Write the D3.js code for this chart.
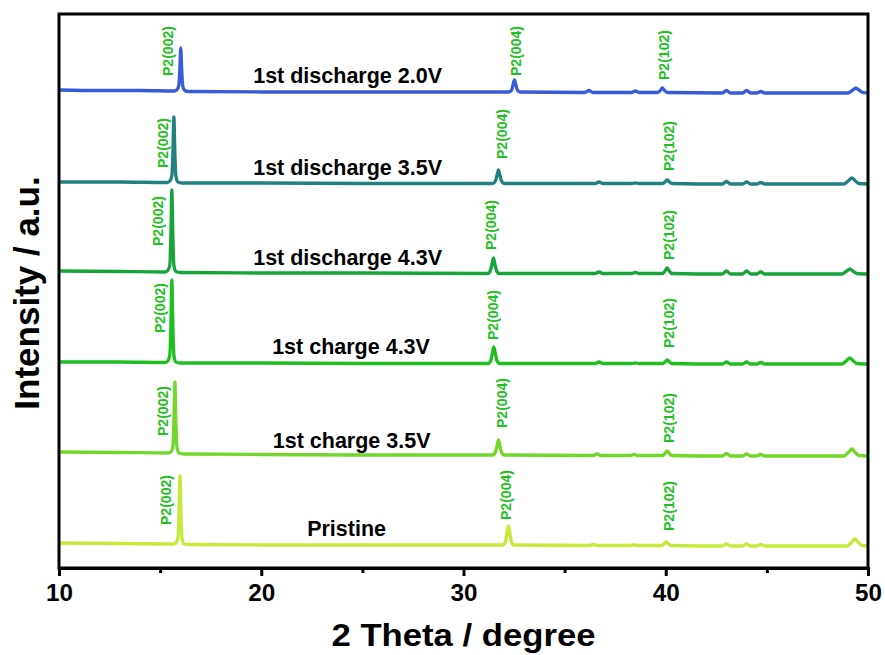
<!DOCTYPE html>
<html>
<head>
<meta charset="utf-8">
<script src="https://cdn.jsdelivr.net/npm/d3@7/dist/d3.min.js"></script>
<style>
  html, body { margin: 0; padding: 0; background: #fff; }
  svg { display: block; }
  text { font-family: "Liberation Sans", Arial, Helvetica, sans-serif; font-weight: bold; }
</style>
</head>
<body>
<svg id="chart" width="885" height="655"></svg>
<script>
// XRD patterns of the P2 cathode at different states of charge (2θ in degrees, intensity in a.u.)
const seriesNames = [
  "1st discharge 2.0V",
  "1st discharge 3.5V",
  "1st discharge 4.3V",
  "1st charge 4.3V",
  "1st charge 3.5V",
  "Pristine"
];

// vertical stacking offset of each pattern (a.u.)
const seriesOffsets = [475, 384, 294, 204, 112, 22];

const seriesColors = ["#3a5ad8", "#22807f", "#16a43b", "#20bf20", "#74d62b", "#c6ea3a"];

const discharge20 = [
  [10, 3], [12, 2.5], [14, 2.5], [15.7, 2], [15.82, 3], [15.92, 7], [15.97, 22], [16.02, 45],
  [16.07, 22], [16.12, 7], [16.22, 2.5], [16.4, 1.5], [20, 1], [25, 1], [30, 1],
  [32.25, 1], [32.38, 3], [32.46, 9], [32.52, 13], [32.58, 9], [32.66, 3], [32.8, 1],
  [36.0, 0.5], [36.2, 2.5], [36.4, 0.5], [38.3, 0.5], [38.5, 2], [38.7, 0.5],
  [39.6, 0.5], [39.75, 3], [39.83, 5], [39.92, 3], [40.08, 0.5],
  [42.8, 0], [43.0, 2.5], [43.2, 0], [43.8, 0], [44.0, 2.5], [44.2, 0], [44.5, 0], [44.7, 1.5], [44.9, 0],
  [49.0, 0], [49.25, 3], [49.4, 5], [49.55, 3], [49.75, 0.5], [50, 0]
];

const discharge35 = [
  [10, 2], [13, 2], [15.35, 1.5], [15.48, 3], [15.58, 8], [15.63, 30], [15.68, 67],
  [15.73, 30], [15.78, 8], [15.88, 2], [16.1, 1], [20, 1], [25, 0.5],
  [31.45, 0.5], [31.58, 3], [31.66, 9], [31.73, 14], [31.8, 9], [31.88, 3], [32.0, 0.5],
  [36.5, 0.5], [36.7, 2], [36.9, 0.5], [38.3, 0.5], [38.5, 1], [38.7, 0.5],
  [39.85, 0.5], [39.98, 2.5], [40.07, 4], [40.16, 2.5], [40.3, 0.5],
  [42.8, 0], [43.0, 2.5], [43.2, 0], [43.8, 0], [44.0, 2], [44.2, 0], [44.5, 0], [44.7, 1.5], [44.9, 0],
  [48.8, 0], [49.05, 3.5], [49.2, 6], [49.35, 3.5], [49.55, 0.5], [50, 0]
];

const discharge43 = [
  [10, 3], [13, 2.5], [15.25, 2], [15.38, 3.5], [15.48, 9], [15.53, 38], [15.58, 84],
  [15.63, 38], [15.68, 9], [15.78, 2.5], [16.0, 1.5], [20, 1], [25, 1],
  [31.2, 0.5], [31.33, 3.5], [31.41, 10], [31.48, 16], [31.55, 10], [31.63, 3.5], [31.76, 0.5],
  [36.5, 0.5], [36.7, 2], [36.9, 0.5], [38.3, 0.5], [38.5, 1.5], [38.7, 0.5],
  [39.85, 0.5], [39.98, 3.5], [40.07, 6], [40.16, 3.5], [40.3, 0.5],
  [42.8, 0], [43.0, 3], [43.2, 0], [43.8, 0], [44.0, 3], [44.2, 0], [44.5, 0], [44.7, 2], [44.9, 0],
  [48.7, 0], [48.95, 3], [49.1, 5], [49.25, 3], [49.45, 0.5], [50, 0]
];

const charge43 = [
  [10, 2], [13, 2], [15.25, 1.5], [15.38, 3], [15.48, 9], [15.53, 38], [15.58, 84],
  [15.63, 38], [15.68, 9], [15.78, 2], [16.0, 1], [20, 1], [25, 0.5],
  [31.22, 0.5], [31.35, 3.5], [31.43, 11], [31.5, 17], [31.57, 11], [31.65, 3.5], [31.78, 0.5],
  [36.5, 0.5], [36.7, 2], [36.9, 0.5], [38.3, 0.5], [38.5, 1], [38.7, 0.5],
  [39.85, 0.5], [39.98, 2.5], [40.07, 4], [40.16, 2.5], [40.3, 0.5],
  [42.8, 0], [43.0, 2], [43.2, 0], [43.8, 0], [44.0, 2], [44.2, 0], [44.5, 0], [44.7, 1.5], [44.9, 0],
  [48.7, 0], [48.95, 3.5], [49.1, 6], [49.25, 3.5], [49.45, 0.5], [50, 0]
];

const charge35 = [
  [10, 4], [13, 3.5], [15.4, 3], [15.53, 4], [15.63, 9], [15.68, 33], [15.73, 74],
  [15.78, 33], [15.83, 9], [15.93, 3], [16.2, 2], [20, 1.5], [25, 1],
  [31.45, 1], [31.58, 4], [31.66, 10], [31.73, 16], [31.8, 10], [31.88, 4], [32.0, 1],
  [36.4, 0.5], [36.6, 2], [36.8, 0.5], [38.25, 0.5], [38.44, 1.5], [38.6, 0.5],
  [39.85, 0.5], [39.98, 3], [40.07, 5], [40.16, 3], [40.3, 0.5],
  [42.8, 0], [43.0, 2.5], [43.2, 0], [43.8, 0], [44.0, 2], [44.2, 0], [44.5, 0], [44.7, 1.5], [44.9, 0],
  [48.8, 0], [49.05, 4], [49.2, 7], [49.35, 4], [49.55, 0.5], [50, 0]
];

const pristine = [
  [10, 3], [13, 2.5], [15.65, 2], [15.78, 3], [15.88, 8], [15.93, 31], [15.98, 70],
  [16.03, 31], [16.08, 8], [16.18, 2], [16.4, 1.5], [20, 1], [25, 1],
  [31.94, 1], [32.07, 4], [32.15, 13], [32.22, 20], [32.29, 13], [32.37, 4], [32.5, 1],
  [36.2, 0.5], [36.42, 1.5], [36.6, 0.5], [38.25, 0.5], [38.44, 1.2], [38.6, 0.5],
  [39.8, 0.5], [39.93, 2.5], [40.02, 4], [40.11, 2.5], [40.25, 0.5],
  [42.8, 0], [43.0, 2], [43.2, 0], [43.8, 0], [44.0, 2], [44.2, 0], [44.5, 0], [44.7, 1.5], [44.9, 0],
  [48.95, 0], [49.2, 4], [49.35, 7], [49.5, 4], [49.7, 0.5], [50, 0]
];

const seriesData = [discharge20, discharge35, discharge43, charge43, charge35, pristine];

// reflection labels: [text, 2θ, intensity above the pattern offset]
const peakLabels = [
  [["P2(002)", 15.38, 17], ["P2(004)", 32.57, 17], ["P2(102)", 39.93, 13]],
  [["P2(002)", 15.14, 16], ["P2(004)", 31.88, 25], ["P2(102)", 40.17, 13]],
  [["P2(002)", 14.89, 28], ["P2(004)", 31.38, 24], ["P2(102)", 40.17, 14]],
  [["P2(002)", 14.99, 31], ["P2(004)", 31.48, 24], ["P2(102)", 40.17, 16]],
  [["P2(002)", 15.14, 20], ["P2(004)", 31.88, 28], ["P2(102)", 40.17, 13]],
  [["P2(002)", 15.28, 21], ["P2(004)", 32.12, 26], ["P2(102)", 40.17, 15]]
];

// pattern name anchors: [2θ, intensity above the pattern offset]
const nameAnchors = [[24.27, 10.5], [24.27, 9], [24.27, 9], [24.44, 10], [24.47, 8], [24.22, 10]];

const xTicks = [10, 20, 30, 40, 50];
const xMinorTicks = [15, 25, 35, 45];
const xDomain = [10, 50];
const yDomain = [0, 554];

const svg = d3.select("#chart");
const plotLeft = 59, plotRight = 868, plotTop = 14, plotBottom = 568;

const x = d3.scaleLinear().domain(xDomain).range([plotLeft, plotRight]);
const y = d3.scaleLinear().domain(yDomain).range([plotBottom, plotTop]);

svg.append("defs").append("clipPath").attr("id", "plot-clip")
  .append("rect").attr("x", plotLeft).attr("y", plotTop)
  .attr("width", plotRight - plotLeft).attr("height", plotBottom - plotTop);

const plot = svg.append("g").attr("clip-path", "url(#plot-clip)");

seriesData.forEach((pts, i) => {
  const off = seriesOffsets[i];
  const line = d3.line()
    .x(d => x(d[0]))
    .y(d => y(d[1] + off))
    .curve(d3.curveMonotoneX);
  plot.append("path")
    .datum(pts)
    .attr("fill", "none")
    .attr("stroke", seriesColors[i])
    .attr("stroke-width", 3.3)
    .attr("stroke-linejoin", "round")
    .attr("stroke-linecap", "round")
    .attr("d", line);
});

// reflection labels, rotated
peakLabels.forEach((labels, i) => {
  const off = seriesOffsets[i];
  labels.forEach(([txt, t, v]) => {
    svg.append("text")
      .attr("transform", `translate(${x(t)},${y(v + off)}) rotate(-90)`)
      .attr("dy", "0.36em")
      .attr("text-anchor", "start")
      .attr("font-size", 14)
      .attr("textLength", 50)
      .attr("lengthAdjust", "spacingAndGlyphs")
      .attr("fill", "#1fc21f")
      .text(txt);
  });
});

// pattern names
seriesNames.forEach((name, i) => {
  const [t, v] = nameAnchors[i];
  svg.append("text")
    .attr("x", x(t))
    .attr("y", y(v + seriesOffsets[i]))
    .attr("text-anchor", "middle")
    .attr("font-size", 21.5)
    .attr("fill", "#000")
    .text(name);
});

// frame
svg.append("rect")
  .attr("x", plotLeft).attr("y", plotTop)
  .attr("width", plotRight - plotLeft).attr("height", plotBottom - plotTop)
  .attr("fill", "none").attr("stroke", "#000").attr("stroke-width", 3);

// bottom axis: major and minor ticks
const axisMajor = d3.axisBottom(x).tickValues(xTicks).tickSize(8).tickPadding(4).tickFormat(d3.format("d"));
const gx = svg.append("g").attr("transform", `translate(0,${plotBottom})`).call(axisMajor);
gx.select(".domain").attr("stroke-width", 3);
gx.selectAll(".tick line").attr("stroke-width", 3);
gx.selectAll(".tick text")
  .attr("font-size", 23)
  .attr("font-family", "'Liberation Sans', Arial, sans-serif")
  .attr("font-weight", "bold")
  .attr("fill", "#000")
  .attr("y", 32.5).attr("dy", 0)
  .attr("textLength", 27)
  .attr("lengthAdjust", "spacingAndGlyphs");

const axisMinor = d3.axisBottom(x).tickValues(xMinorTicks).tickSize(5).tickFormat("");
const gxm = svg.append("g").attr("transform", `translate(0,${plotBottom})`).call(axisMinor);
gxm.select(".domain").remove();
gxm.selectAll(".tick line").attr("stroke-width", 3);

// axis titles
svg.append("text")
  .attr("x", (plotLeft + plotRight) / 2)
  .attr("y", 646)
  .attr("text-anchor", "middle")
  .attr("font-size", 32)
  .attr("textLength", 264)
  .attr("lengthAdjust", "spacingAndGlyphs")
  .attr("fill", "#000")
  .text("2 Theta / degree");

svg.append("text")
  .attr("transform", `translate(39,${(plotTop + plotBottom) / 2 + 2}) rotate(-90)`)
  .attr("text-anchor", "middle")
  .attr("font-size", 35)
  .attr("fill", "#000")
  .text("Intensity / a.u.");
</script>
</body>
</html>
